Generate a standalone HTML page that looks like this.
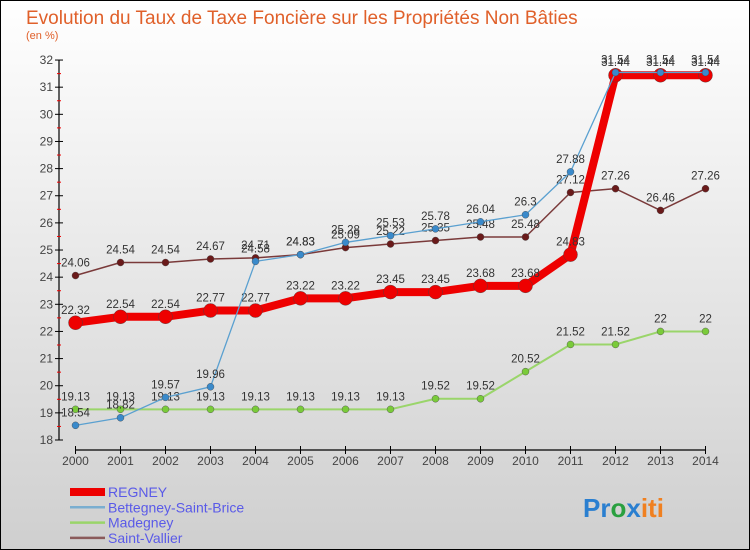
<!DOCTYPE html>
<html><head><meta charset="utf-8"><style>
body{margin:0}
svg{display:block;font-family:"Liberation Sans",sans-serif}
</style></head><body>
<svg id="c" width="750" height="550" xmlns="http://www.w3.org/2000/svg">
<defs><linearGradient id="bg" x1="0" y1="0" x2="0" y2="1"><stop offset="0" stop-color="#ffffff"/><stop offset="1" stop-color="#cfcfcf"/></linearGradient></defs>
<rect x="0.5" y="0.5" width="749" height="549" fill="url(#bg)" stroke="#000"/>
<text x="26" y="24" font-size="19" fill="#e0602a">Evolution du Taux de Taxe Foncière sur les Propriétés Non Bâties</text>
<text x="26" y="39" font-size="11" fill="#e0602a">(en %)</text>
<g id="axes"></g><g id="series"></g><g id="legend"></g>
<text x="583" y="517" font-size="26" font-weight="bold"><tspan fill="#2a7fd0">Pr</tspan><tspan fill="#2aa040">o</tspan><tspan fill="#2a7fd0">x</tspan><tspan fill="#f08020">iti</tspan></text>
</svg>
<script>
const years=[2000,2001,2002,2003,2004,2005,2006,2007,2008,2009,2010,2011,2012,2013,2014];
const yTicks=[18,19,20,21,22,23,24,25,26,27,28,29,30,31,32];
const regney=[22.32,22.54,22.54,22.77,22.77,23.22,23.22,23.45,23.45,23.68,23.68,24.83,31.44,31.44,31.44];
const bettegney=[18.54,18.82,19.57,19.96,24.58,24.83,25.28,25.53,25.78,26.04,26.3,27.88,31.54,31.54,31.54];
const madegney=[19.13,19.13,19.13,19.13,19.13,19.13,19.13,19.13,19.52,19.52,20.52,21.52,21.52,22,22];
const vallier=[24.06,24.54,24.54,24.67,24.71,24.83,25.09,25.22,25.35,25.48,25.48,27.12,27.26,26.46,27.26];
const NS='http://www.w3.org/2000/svg';
const X=i=>75.5+i*45, Y=v=>440-(v-18)*27.14;
function mk(p,t,a){const e=document.createElementNS(NS,t);for(const k in a)e.setAttribute(k,a[k]);p.appendChild(e);return e;}
const ax=document.getElementById('axes');
let l=mk(ax,'path',{d:`M59 ${Y(32)}V440M75.5 450H705`,stroke:'#000',fill:'none','stroke-width':1.2});


yTicks.forEach(v=>{
 const t=mk(ax,'line',{x1:55,x2:63,y1:Y(v),y2:Y(v),stroke:'#000'});
 
 
 if(v<32){const m=mk(ax,'line',{x1:57,x2:61,y1:Y(v+0.5),y2:Y(v+0.5),stroke:'#e00'});
 
 }
 const tx=mk(ax,'text',{x:53,y:Y(v)+4,'font-size':12,fill:'#444','text-anchor':'end'});tx.textContent=v;
 
 
});
years.forEach((yr,i)=>{
 const t=mk(ax,'line',{x1:X(i),x2:X(i),y1:446,y2:454,stroke:'#000'});
 
 
 const tx=mk(ax,'text',{x:X(i),y:465,'font-size':12,fill:'#444','text-anchor':'middle'});tx.textContent=yr;
 
 
});
const sg=document.getElementById('series');
const defs=[
 {d:madegney,c:'#9ad56a',dot:'#7acb3a',w:2,r:3.5,n:'madegney'},
 {d:vallier,c:'#7a3a3a',dot:'#6a1a1a',w:1.5,r:3.5,n:'saint-vallier'},
 {d:regney,c:'#ee0000',dot:'#ee0000',w:8,r:7,n:'regney'},
 {d:bettegney,c:'#5aa0d0',dot:'#3a8acb',w:1.3,r:3.5,n:'bettegney-saint-brice'}];
defs.forEach(s=>{
 const g=mk(sg,'g',{});
 
 
 const p=mk(g,'polyline',{points:s.d.map((v,i)=>X(i)+','+Y(v)).join(' '),fill:'none',stroke:s.c,'stroke-width':s.w,'stroke-linejoin':'round'});
 
 
 s.d.forEach((v,i)=>{
  const c=mk(g,'circle',{cx:X(i),cy:Y(v),r:s.r,fill:s.dot,stroke:'#444','stroke-width':0.4});
  
  
  const t=mk(g,'text',{x:X(i),y:Y(v)-9,'font-size':11.5,fill:'#333','text-anchor':'middle'});t.textContent=v;
  
  
 });
});
const lg=document.getElementById('legend');
[['REGNEY','#ee0000',8],['Bettegney-Saint-Brice','#7aaed0',2.5],['Madegney','#9ad56a',2.5],['Saint-Vallier','#8a5a5a',2.5]].forEach((e,i)=>{
 const y=492+i*15.3;
 const ln=mk(lg,'line',{x1:70,x2:105,y1:y,y2:y,stroke:e[1],'stroke-width':e[2]});
 
 
 const t=mk(lg,'text',{x:108,y:y+5,'font-size':14,fill:'#5a5ae8'});t.textContent=e[0];
 
 
});
</script>
</body></html>
